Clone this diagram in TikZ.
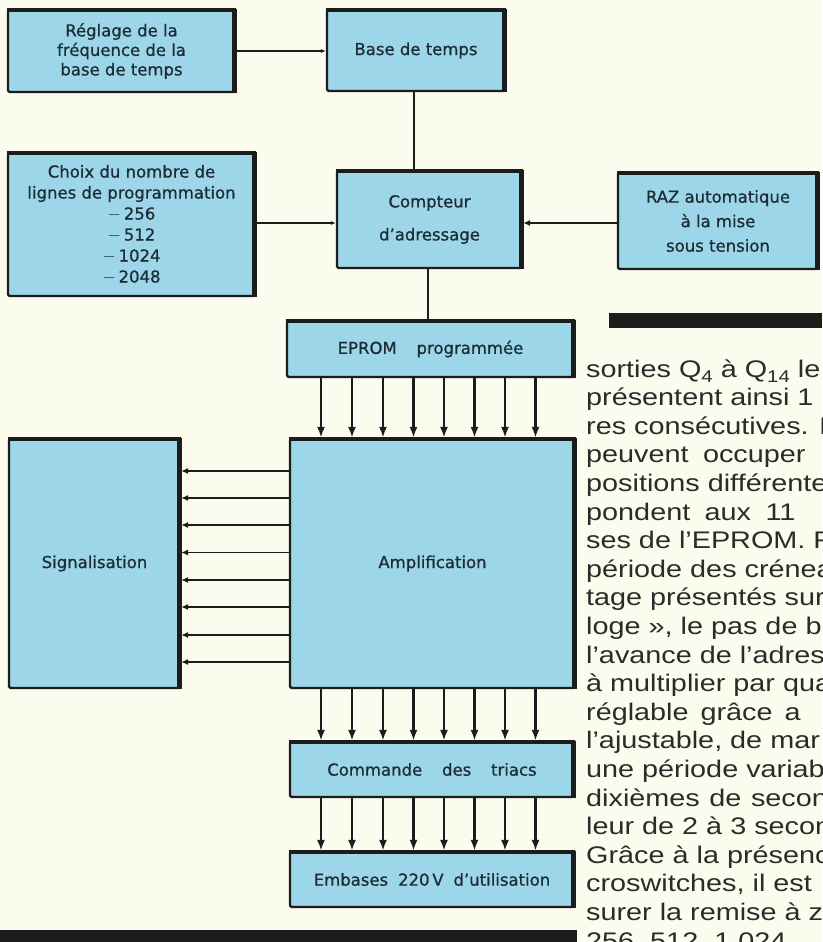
\documentclass[tikz,border=0pt]{standalone}
\usepackage{fontspec}
\setmainfont{DejaVu Sans}[FakeBold=0.7]
\newfontfamily\bodyfont[FakeStretch=1.2]{Liberation Sans}
\usetikzlibrary{arrows.meta}
\definecolor{paper}{HTML}{FCFCEE}
\definecolor{boxblue}{HTML}{9DD5E9}
\definecolor{ink}{HTML}{1A1D1B}
\definecolor{boxtext}{HTML}{1C2C34}
\definecolor{bodytext}{HTML}{2B2B2B}
\newcommand{\subs}[1]{\lower5pt\hbox{\fontsize{17}{17}\selectfont #1}}
\begin{document}
\begin{tikzpicture}[x=1pt,y=-1pt,
  blk/.style={draw=ink, line width=2.2pt, fill=boxblue, rounded corners=1.5pt,
    inner sep=0pt, align=center, text=boxtext, font=\fontsize{16.5}{19.5}\selectfont},
  wire/.style={draw=ink, line width=1.6pt},
  smalltip/.style={-{Latex[length=5pt,width=4pt]}},
  bus/.style={draw=ink, line width=2.8pt},
  busarrow/.style={bus, -{Latex[length=11pt,width=8pt]}},
  sigarrow/.style={wire, -{Latex[length=7pt,width=6pt]}},
  bar/.style={fill=ink},
  bodyline/.style={anchor=base west, inner sep=0pt, text=bodytext,
    font=\bodyfont\fontsize{24}{28}\selectfont}
]
\useasboundingbox (0,0) rectangle (822,942);
\fill[paper] (0,0) rectangle (822,942);

\begin{scope}
\clip (0,0) rectangle (822,942);

% boxes
\node[blk, minimum width=227pt, minimum height=82pt] (reg) at (121.5,51)
  {Réglage de la\\fréquence de la\\base de temps};
\node[blk, minimum width=178pt, minimum height=81pt] (base) at (416,50.5) {Base de temps};
\node[blk, minimum width=247pt, minimum height=143pt, font=\fontsize{16.5}{21}\selectfont] (choix) at (131.5,224.5)
  {Choix du nombre de\\lignes de programmation\\$-$\,256\\$-$\,512\\$-$\,1024\\$-$\,2048};
\node[blk, minimum width=185pt, minimum height=97pt, font=\fontsize{16.5}{33}\selectfont] (compt) at (429.5,219.5)
  {Compteur\\d’adressage};
\node[blk, minimum width=200pt, minimum height=96pt, font=\fontsize{16.5}{24.5}\selectfont] (raz) at (718,221)
  {RAZ automatique\\à la mise\\sous tension};
\node[blk, minimum width=287pt, minimum height=56pt] (eprom) at (430.5,349)
  {EPROM\hspace{1.2em}programmée};
\node[blk, minimum width=171pt, minimum height=249pt] (sig) at (94.5,563.5) {Signalisation};
\node[blk, minimum width=285pt, minimum height=249pt] (ampl) at (432.5,563.5) {Amplification};
\node[blk, minimum width=284pt, minimum height=55pt] (cmd) at (432,769.5)
  {Commande\hspace{1.2em}des\hspace{1.2em}triacs};
\node[blk, minimum width=284pt, minimum height=55pt] (emb) at (432,879.5)
  {Embases\hspace{0.6em}220\,V\hspace{0.6em}d’utilisation};

% heavier top and right edges
\foreach \n in {reg,base,choix,compt,raz,eprom,sig,ampl,cmd,emb}{
  \draw[ink, line width=4.5pt] ([yshift=-1pt]\n.north west) -- ([yshift=-1pt]\n.north east);
  \draw[ink, line width=5pt] ([xshift=-1.4pt]\n.north east) -- ([xshift=-1.4pt]\n.south east);
}

% bars
\fill[bar] (609,313) rectangle (822,328);
\fill[bar] (0,930) rectangle (577,942);

% connectors
\draw[wire, smalltip] (reg.east) -- (reg.east -| base.west);
\coordinate (xb) at (414,0);
\draw[bus] (base.south -| xb) -- (compt.north -| xb);
\coordinate (yc) at (0,223);
\draw[wire, smalltip] (choix.east |- yc) -- (compt.west |- yc);
\draw[wire, -{Latex[length=7pt,width=6pt]}] (raz.west |- yc) -- (compt.east |- yc);
\coordinate (xe) at (428,0);
\draw[bus] (compt.south -| xe) -- (eprom.north -| xe);

\foreach \x [count=\i] in {321,352,383,413.5,444,474.5,505,535.5}{
  \coordinate (cx\i) at (\x,0);
  \draw[busarrow] (eprom.south -| cx\i) -- (ampl.north -| cx\i);
  \draw[busarrow] (ampl.south -| cx\i) -- (cmd.north -| cx\i);
  \draw[busarrow] (cmd.south -| cx\i) -- (emb.north -| cx\i);
}
\foreach \y [count=\i] in {471,498,525,552.5,580,607,635,662}{
  \coordinate (cy\i) at (0,\y);
  \draw[sigarrow] (ampl.west |- cy\i) -- (sig.east |- cy\i);
}

% running text column (clipped at the right edge)
\foreach \t [count=\i] in {
  {sorties Q\subs{4} à Q\subs{14} le},
  {présentent ainsi 1},
  {res consécutives. D},
  {peuvent\hspace{0.6em}occuper},
  {positions différente},
  {pondent\hspace{0.6em}aux\hspace{0.6em}11},
  {ses de l’EPROM. F},
  {période des crénea},
  {tage présentés sur},
  {loge », le pas de b},
  {l’avance de l’adres},
  {à multiplier par qua},
  {réglable\hspace{0.5em}grâce\hspace{0.5em}a},
  {l’ajustable, de mar},
  {une période variab},
  {dixièmes\hspace{0.4em}de\hspace{0.4em}secon},
  {leur de 2 à 3 secon},
  {Grâce à la présenc},
  {croswitches, il est},
  {surer la remise à ze},
  {256, 512, 1 024}}{
  \node[bodyline] (t\i) at (586,{377+(\i-1)*28.6}) {\t};
}
\end{scope}
\end{tikzpicture}
\end{document}
